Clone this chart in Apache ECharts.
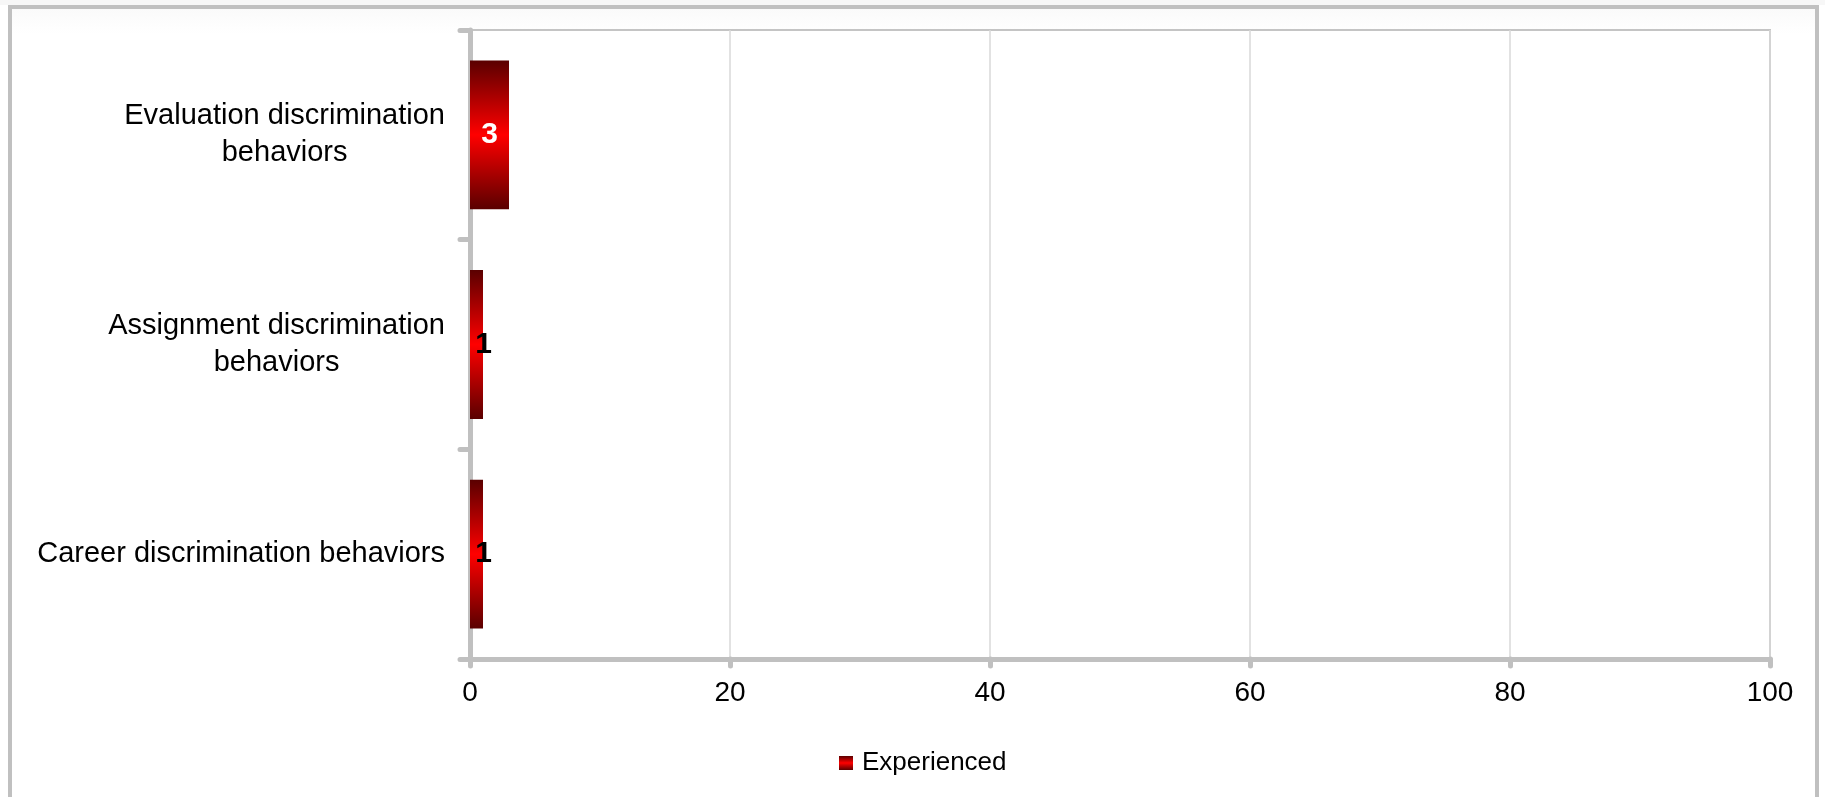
<!DOCTYPE html>
<html>
<head>
<meta charset="utf-8">
<script src="https://cdn.jsdelivr.net/npm/echarts@6/dist/echarts.min.js"></script>
<style>
  html, body { margin: 0; padding: 0; background: #ffffff; }
  #wrap { position: relative; width: 1825px; height: 797px; overflow: hidden; background: linear-gradient(#f7f7f7 0px, #f7f7f7 5px, #ffffff 5px); }
  #chart { position: absolute; left: 0; top: 0; width: 1825px; height: 797px; }
  #frame { position: absolute; left: 8px; top: 5px; width: 1811px; height: 820px; border: 4px solid #c0c0c0; border-bottom: none; box-sizing: border-box; pointer-events: none; background: linear-gradient(#fafafa 0px, #ffffff 25px); }
</style>
</head>
<body>
<div id="wrap">
  <div id="frame"></div>
  <div id="chart"></div>
</div>
<script>
  // Data (bottom to top on the category axis)
  var categories = [
    'Career discrimination behaviors',
    'Assignment discrimination\nbehaviors',
    'Evaluation discrimination\nbehaviors'
  ];
  var experienced = [1, 1, 3];
  var seriesName = 'Experienced';
  var xTicks = { min: 0, max: 100, interval: 20 };

  var FONT = '"Liberation Sans", Arial, sans-serif';
  var barGradient = new echarts.graphic.LinearGradient(0, 0, 0, 1, [
    { offset: 0, color: '#5a0000' },
    { offset: 0.5, color: '#ff0000' },
    { offset: 1, color: '#5a0000' }
  ]);

  var barData = experienced.map(function (v) {
    var small = v < 2;
    return {
      value: v,
      label: {
        color: small ? '#000000' : '#ffffff',
        offset: small ? [7, 0] : [0, 0]
      }
    };
  });

  var chart = echarts.init(document.getElementById('chart'), null, { renderer: 'canvas' });
  chart.setOption({
    animation: false,
    backgroundColor: 'transparent',
    grid: {
      left: 470, right: 55, top: 30, bottom: 138,
      show: true, borderColor: '#c4c4c4', borderWidth: 2,
      backgroundColor: '#ffffff',
      containLabel: false,
      outerBoundsMode: 'none'
    },
    legend: {
      data: [seriesName],
      left: 834, top: 745,
      icon: 'rect', itemWidth: 14, itemHeight: 14,
      textStyle: { fontFamily: FONT, fontSize: 26, color: '#000000', padding: [0, 0, 0, 4] }
    },
    xAxis: {
      type: 'value',
      min: xTicks.min, max: xTicks.max, interval: xTicks.interval,
      axisLine: { show: true, lineStyle: { color: '#c0c0c0', width: 5 } },
      axisTick: { show: true, length: 7, lineStyle: { color: '#c0c0c0', width: 5, cap: 'round' } },
      splitLine: { show: true, lineStyle: { color: '#d9d9d9', width: 1.5 } },
      axisLabel: { fontFamily: FONT, fontSize: 28, color: '#000000', margin: 20 }
    },
    yAxis: {
      type: 'category',
      data: categories,
      axisLine: { show: true, lineStyle: { color: '#c0c0c0', width: 5 } },
      axisTick: { show: true, length: 10, lineStyle: { color: '#c0c0c0', width: 5, cap: 'round' } },
      splitLine: { show: false },
      axisLabel: {
        interval: 0,
        margin: 25,
        fontFamily: FONT, fontSize: 29, color: '#000000',
        formatter: function (v) {
          return v.split('\n').map(function (l) { return '{c|' + l + '}'; }).join('\n');
        },
        rich: {
          c: { align: 'center', fontFamily: FONT, fontSize: 29, color: '#000000', lineHeight: 37 }
        }
      }
    },
    series: [{
      name: seriesName,
      type: 'bar',
      data: barData,
      barWidth: '71%',
      itemStyle: { color: barGradient },
      label: {
        show: true,
        position: 'inside',
        fontFamily: FONT,
        fontSize: 30,
        fontWeight: 'bold'
      }
    }]
  });
</script>
</body>
</html>
